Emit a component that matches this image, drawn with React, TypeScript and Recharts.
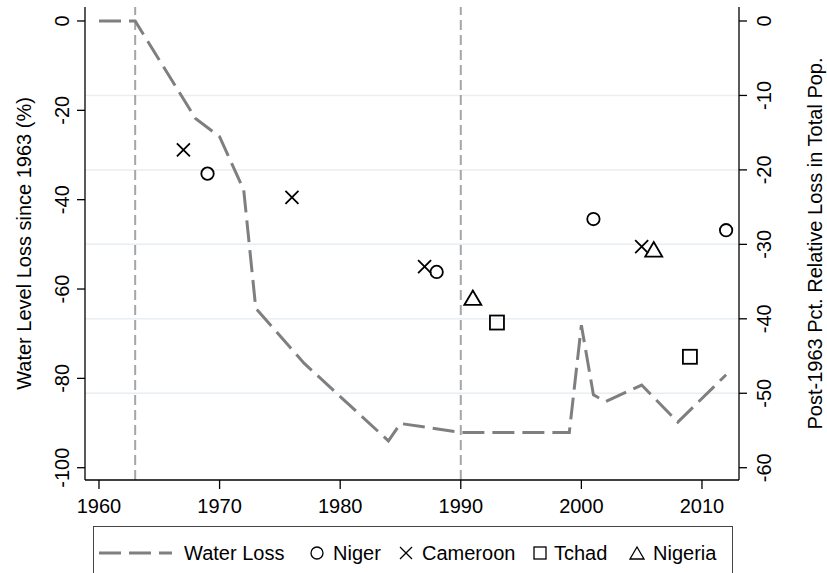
import React from 'react';
import { ComposedChart, Line, Scatter, XAxis, YAxis, ReferenceLine } from 'recharts';

const FONT = '"Liberation Sans", Arial, sans-serif';

// water level loss since 1963 (left axis, %)
const lossYears = [1960, 1963, 1968, 1970, 1972, 1973, 1977, 1984, 1985, 1990, 1999, 2000, 2001, 2002, 2005, 2008, 2012];
const lossValues = [0, 0, -21.8, -25.9, -37.8, -64.3, -76.6, -94.0, -90.1, -92.1, -92.1, -68.1, -83.7, -85.2, -81.5, -89.8, -79.2];

// relative population loss (right axis)
const nigerYears = [1969, 1988, 2001, 2012];
const nigerValues = [-20.5, -33.7, -26.6, -28.1];
const cameroonYears = [1967, 1976, 1987, 2005];
const cameroonValues = [-17.3, -23.7, -33.0, -30.3];
const tchadYears = [1993, 2009];
const tchadValues = [-40.5, -45.1];
const nigeriaYears = [1991, 2006];
const nigeriaValues = [-37.2, -30.7];

const xTicks = [1960, 1970, 1980, 1990, 2000, 2010];
const leftTicks = [0, -20, -40, -60, -80, -100];
const rightTicks = [0, -10, -20, -30, -40, -50, -60];
const gridValues = [-10, -20, -30, -40, -50];
const markYears = [1963, 1990];

const lossData = lossYears.map((year, i) => ({ year, loss: lossValues[i] }));
const toPoints = (years: number[], vals: number[]) => years.map((year, i) => ({ year, v: vals[i] }));

const LeftTick = ({ x, y, payload }: any) => (
  <text x={x} y={y} transform={`rotate(-90 ${x} ${y})`} textAnchor="middle" fontSize={20} fill="#000" fontFamily={FONT}>
    {payload.value}
  </text>
);

const BottomTick = ({ x, y, payload }: any) => (
  <text x={x} y={y} textAnchor="middle" fontSize={20} fill="#000" fontFamily={FONT}>
    {payload.value}
  </text>
);

const CircleMark = ({ cx, cy }: any) => <circle cx={cx} cy={cy} r={6.2} fill="none" stroke="#000" strokeWidth={1.8} />;
const CrossMark = ({ cx, cy }: any) => (
  <path d={`M${cx - 6.5},${cy - 6.5}L${cx + 6.5},${cy + 6.5}M${cx - 6.5},${cy + 6.5}L${cx + 6.5},${cy - 6.5}`} stroke="#000" strokeWidth={1.8} fill="none" />
);
const SquareMark = ({ cx, cy }: any) => (
  <rect x={cx - 7} y={cy - 7} width={14} height={14} fill="none" stroke="#000" strokeWidth={1.8} />
);
const TriangleMark = ({ cx, cy }: any) => (
  <path d={`M${cx},${cy - 7.5}L${cx + 8.5},${cy + 7}L${cx - 8.5},${cy + 7}Z`} fill="none" stroke="#000" strokeWidth={1.8} />
);

const titleLeft = ({ viewBox }: any) => {
  const x = viewBox.x + 31;
  const y = viewBox.y + viewBox.height / 2;
  return (
    <text x={x} y={y} transform={`rotate(-90 ${x} ${y})`} textAnchor="middle" fontSize={20} fill="#000" fontFamily={FONT}>
      Water Level Loss since 1963 (%)
    </text>
  );
};

const titleRight = ({ viewBox }: any) => {
  const x = viewBox.x + 83;
  const y = viewBox.y + viewBox.height / 2;
  return (
    <text x={x} y={y} transform={`rotate(-90 ${x} ${y})`} textAnchor="middle" fontSize={20} fill="#000" fontFamily={FONT}>
      Post-1963 Pct. Relative Loss in Total Pop.
    </text>
  );
};

const legendText: React.CSSProperties = { position: 'absolute', top: 13, fontSize: 20, lineHeight: '26px', whiteSpace: 'nowrap' };
const icon = (left: number, child: React.ReactNode) => (
  <svg style={{ position: 'absolute', left: left - 8, top: 18 }} width={16} height={16}>{child}</svg>
);

const Legend = () => (
  <div style={{ position: 'absolute', left: 93, top: 526, width: 640, height: 70, border: '1.3px solid #444', boxSizing: 'border-box', fontFamily: FONT, color: '#000' }}>
    <svg style={{ position: 'absolute', left: 5, top: 24 }} width={73} height={4}>
      <line x1={0} y1={2} x2={73} y2={2} stroke="#7f7f7f" strokeWidth={3} strokeDasharray="22 8" />
    </svg>
    <span style={{ ...legendText, left: 90 }}>Water Loss</span>
    {icon(223, <circle cx={8} cy={8} r={6} fill="none" stroke="#000" strokeWidth={1.3} />)}
    <span style={{ ...legendText, left: 239 }}>Niger</span>
    {icon(312, <path d="M2,2L14,14M2,14L14,2" stroke="#000" strokeWidth={1.3} />)}
    <span style={{ ...legendText, left: 328 }}>Cameroon</span>
    {icon(446, <rect x={2} y={2} width={12} height={12} fill="none" stroke="#000" strokeWidth={1.3} />)}
    <span style={{ ...legendText, left: 460 }}>Tchad</span>
    {icon(543, <path d="M8,2L15,14L1,14Z" fill="none" stroke="#000" strokeWidth={1.3} />)}
    <span style={{ ...legendText, left: 559 }}>Nigeria</span>
  </div>
);

export default function App() {
  return (
    <div style={{ position: 'absolute', left: 0, top: 0, width: 827, height: 573, overflow: 'hidden', background: '#fff' }}>
      <ComposedChart width={827} height={573} margin={{ top: 7, right: 0, bottom: 0, left: 0 }}>
        <XAxis
          type="number"
          dataKey="year"
          domain={[1958.84, 2013.07]}
          allowDataOverflow
          ticks={xTicks}
          height={93}
          tickSize={9}
          tickMargin={24}
          tick={<BottomTick />}
          axisLine={{ stroke: '#000', strokeWidth: 1.3 }}
          tickLine={{ stroke: '#000', strokeWidth: 1.3 }}
        />
        <YAxis
          yAxisId="left"
          type="number"
          domain={[-102.75, 3.13]}
          allowDataOverflow
          ticks={leftTicks}
          width={85}
          tickSize={8}
          tickMargin={8}
          tick={<LeftTick />}
          axisLine={{ stroke: '#000', strokeWidth: 1.3 }}
          tickLine={{ stroke: '#000', strokeWidth: 1.3 }}
          label={{ content: titleLeft }}
        />
        <YAxis
          yAxisId="right"
          orientation="right"
          type="number"
          domain={[-61.65, 1.88]}
          allowDataOverflow
          ticks={rightTicks}
          width={88}
          tickSize={8}
          tickMargin={24.5}
          tick={<LeftTick />}
          axisLine={{ stroke: '#000', strokeWidth: 1.3 }}
          tickLine={{ stroke: '#000', strokeWidth: 1.3 }}
          label={{ content: titleRight }}
        />
        {gridValues.map((v) => (
          <ReferenceLine key={'g' + v} yAxisId="right" y={v} stroke="#e8eef1" strokeWidth={1.5} />
        ))}
        {markYears.map((yr) => (
          <ReferenceLine key={'m' + yr} yAxisId="left" x={yr} stroke="#a6a6a6" strokeWidth={2} strokeDasharray="10 5" />
        ))}
        <Line
          yAxisId="left"
          data={lossData}
          dataKey="loss"
          type="linear"
          stroke="#7f7f7f"
          strokeWidth={3}
          strokeDasharray="22 8"
          dot={false}
          isAnimationActive={false}
        />
        <Scatter yAxisId="right" data={toPoints(nigerYears, nigerValues)} dataKey="v" shape={CircleMark} isAnimationActive={false} />
        <Scatter yAxisId="right" data={toPoints(cameroonYears, cameroonValues)} dataKey="v" shape={CrossMark} isAnimationActive={false} />
        <Scatter yAxisId="right" data={toPoints(tchadYears, tchadValues)} dataKey="v" shape={SquareMark} isAnimationActive={false} />
        <Scatter yAxisId="right" data={toPoints(nigeriaYears, nigeriaValues)} dataKey="v" shape={TriangleMark} isAnimationActive={false} />
      </ComposedChart>
      <Legend />
    </div>
  );
}
